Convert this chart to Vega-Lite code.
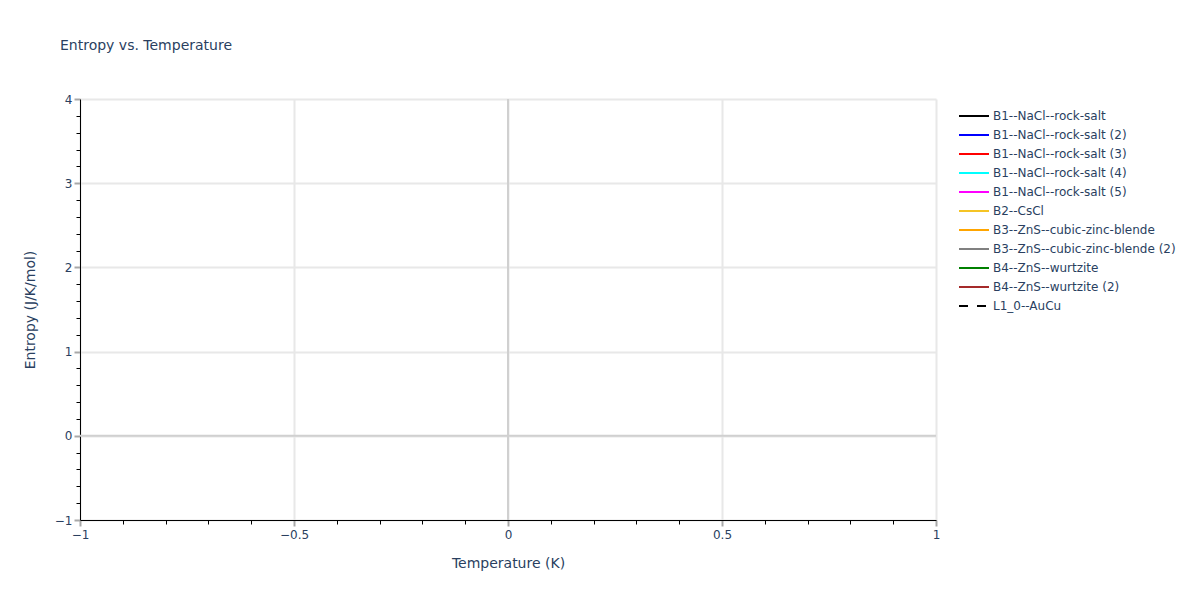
{
  "$schema": "https://vega.github.io/schema/vega-lite/v6.json",
  "width": 856,
  "height": 421,
  "autosize": "none",
  "padding": {"left": 80, "top": 99, "right": 264, "bottom": 80},
  "background": "white",
  "title": {
    "text": "Entropy vs. Temperature",
    "anchor": "start",
    "frame": "group",
    "dx": -20,
    "offset": 29,
    "baseline": "alphabetic",
    "fontSize": 14,
    "font": "DejaVu Sans",
    "fontWeight": "normal",
    "color": "#2a3f5f"
  },
  "config": {
    "view": {"stroke": null},
    "font": "DejaVu Sans",
    "axis": {
      "labelFont": "DejaVu Sans",
      "labelFontSize": 12,
      "labelColor": "#2a3f5f",
      "labelFlush": false,
      "titleFont": "DejaVu Sans",
      "titleFontSize": 14,
      "titleFontWeight": "normal",
      "titleColor": "#2a3f5f"
    }
  },
  "layer": [
    {
      "data": {
        "values": [
          {"series": "B1--NaCl--rock-salt", "temperature": null, "entropy": null},
          {"series": "B1--NaCl--rock-salt (2)", "temperature": null, "entropy": null},
          {"series": "B1--NaCl--rock-salt (3)", "temperature": null, "entropy": null},
          {"series": "B1--NaCl--rock-salt (4)", "temperature": null, "entropy": null},
          {"series": "B1--NaCl--rock-salt (5)", "temperature": null, "entropy": null},
          {"series": "B2--CsCl", "temperature": null, "entropy": null},
          {"series": "B3--ZnS--cubic-zinc-blende", "temperature": null, "entropy": null},
          {"series": "B3--ZnS--cubic-zinc-blende (2)", "temperature": null, "entropy": null},
          {"series": "B4--ZnS--wurtzite", "temperature": null, "entropy": null},
          {"series": "B4--ZnS--wurtzite (2)", "temperature": null, "entropy": null},
          {"series": "L1_0--AuCu", "temperature": null, "entropy": null}
        ]
      },
      "mark": {"type": "line", "strokeWidth": 2},
      "encoding": {
        "x": {
          "field": "temperature",
          "type": "quantitative",
          "scale": {"domain": [-1, 1], "nice": false, "zero": false},
          "axis": {
            "orient": "bottom",
            "title": "Temperature (K)",
            "values": [-1, -0.5, 0, 0.5, 1],
            "format": "~g",
            "grid": true,
            "gridColor": "#e8e8e8",
            "gridWidth": 2,
            "domainColor": "black",
            "domainWidth": 1,
            "tickColor": "#a8a8a8",
            "tickWidth": 2,
            "tickSize": 6,
            "labelPadding": 3,
            "titleY": 43,
            "titleBaseline": "middle"
          }
        },
        "y": {
          "field": "entropy",
          "type": "quantitative",
          "scale": {"domain": [-1, 4], "nice": false, "zero": false},
          "axis": {
            "orient": "left",
            "title": "Entropy (J/K/mol)",
            "values": [-1, 0, 1, 2, 3, 4],
            "format": "~g",
            "grid": true,
            "gridColor": "#e8e8e8",
            "gridWidth": 2,
            "domainColor": "black",
            "domainWidth": 1,
            "tickColor": "#a8a8a8",
            "tickWidth": 2,
            "tickSize": 6,
            "labelPadding": 2,
            "titleX": -50,
            "titleBaseline": "middle"
          }
        },
        "color": {
          "field": "series",
          "type": "nominal",
          "scale": {
            "domain": [
              "B1--NaCl--rock-salt",
              "B1--NaCl--rock-salt (2)",
              "B1--NaCl--rock-salt (3)",
              "B1--NaCl--rock-salt (4)",
              "B1--NaCl--rock-salt (5)",
              "B2--CsCl",
              "B3--ZnS--cubic-zinc-blende",
              "B3--ZnS--cubic-zinc-blende (2)",
              "B4--ZnS--wurtzite",
              "B4--ZnS--wurtzite (2)",
              "L1_0--AuCu"
            ],
            "range": ["#000000", "#0000ff", "#ff0000", "#00ffff", "#ff00ff", "#f5c425", "#ffa500", "#808080", "#008000", "#a52a2a", "#000000"]
          },
          "legend": {
            "title": null,
            "orient": "none",
            "legendX": 887,
            "legendY": 10,
            "padding": 0,
            "symbolType": "M-2.5,0H2.5",
            "symbolSize": 144,
            "symbolStrokeWidth": 2,
            "rowPadding": 6,
            "labelOffset": 12,
            "labelFont": "DejaVu Sans",
            "labelFontSize": 12,
            "labelColor": "#2a3f5f",
            "labelLimit": 300
          }
        },
        "strokeDash": {
          "field": "series",
          "type": "nominal",
          "scale": {
            "domain": [
              "B1--NaCl--rock-salt",
              "B1--NaCl--rock-salt (2)",
              "B1--NaCl--rock-salt (3)",
              "B1--NaCl--rock-salt (4)",
              "B1--NaCl--rock-salt (5)",
              "B2--CsCl",
              "B3--ZnS--cubic-zinc-blende",
              "B3--ZnS--cubic-zinc-blende (2)",
              "B4--ZnS--wurtzite",
              "B4--ZnS--wurtzite (2)",
              "L1_0--AuCu"
            ],
            "range": [[1, 0], [1, 0], [1, 0], [1, 0], [1, 0], [1, 0], [1, 0], [1, 0], [1, 0], [1, 0], [9, 9]]
          }
        }
      }
    },
    {
      "data": {"values": [{"zero": 0}]},
      "mark": {"type": "rule", "color": "#d0d0d0", "strokeWidth": 2},
      "encoding": {
        "x": {
          "field": "zero",
          "type": "quantitative",
          "axis": {
            "orient": "bottom",
            "title": null,
            "labels": false,
            "grid": false,
            "domain": false,
            "tickColor": "black",
            "tickWidth": 1,
            "tickSize": 4,
            "values": [-0.9, -0.8, -0.7, -0.6, -0.4, -0.3, -0.2, -0.1, 0.1, 0.2, 0.3, 0.4, 0.6, 0.7, 0.8, 0.9]
          }
        }
      }
    },
    {
      "data": {"values": [{"zero": 0}]},
      "mark": {"type": "rule", "color": "#d0d0d0", "strokeWidth": 2},
      "encoding": {
        "y": {
          "field": "zero",
          "type": "quantitative",
          "axis": {
            "orient": "left",
            "title": null,
            "labels": false,
            "grid": false,
            "domain": false,
            "tickColor": "black",
            "tickWidth": 1,
            "tickSize": 4,
            "values": [-0.8, -0.6, -0.4, -0.2, 0.2, 0.4, 0.6, 0.8, 1.2, 1.4, 1.6, 1.8, 2.2, 2.4, 2.6, 2.8, 3.2, 3.4, 3.6, 3.8]
          }
        }
      }
    }
  ],
  "resolve": {"axis": {"x": "independent", "y": "independent"}}
}
